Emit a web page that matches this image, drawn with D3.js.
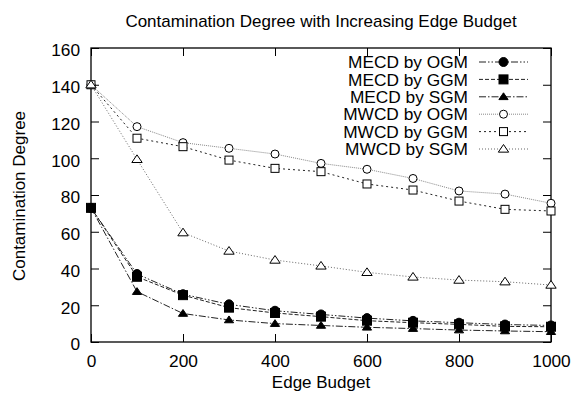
<!DOCTYPE html>
<html><head><meta charset="utf-8">
<script src="https://cdn.jsdelivr.net/npm/d3@7"></script>
<style>
html,body{margin:0;padding:0;background:#fff;}
svg text{font-family:"Liberation Sans",Arial,Helvetica,sans-serif;fill:#000;}
</style></head>
<body><svg id="c" width="573" height="397"></svg>
<script>
const budgets = [0,100,200,300,400,500,600,700,800,900,1000];
const mecdOGM = [73,37,26,20.5,17,15,13,11.5,10.5,9.5,9];
const mecdGGM = [73,35.5,25.5,18.7,15.8,13.8,11.6,10.5,9.6,8.5,8.3];
const mecdSGM = [73,27.4,15.5,12,10,9,8,7.3,6.5,6,5.6];
const mwcdOGM = [140,117.2,108.5,105.4,102.3,97.2,94,89,82.2,80.5,75.5];
const mwcdGGM = [140,110.9,106.3,99,94.5,92.7,86,82.7,76.7,72.2,71.3];
const mwcdSGM = [140,99.4,59.5,49.5,44.6,41.4,37.9,35.4,33.7,32.8,31];
const seriesNames = ["MECD by OGM","MECD by GGM","MECD by SGM","MWCD by OGM","MWCD by GGM","MWCD by SGM"];
const xTicks = [0,200,400,600,800,1000];
const yTicks = [0,20,40,60,80,100,120,140,160];

const series = [
  {name:seriesNames[0], values:mecdOGM, dash:"7,2,1.5,2,1.5,2", color:"#222", width:1, marker:"circle", fill:true},
  {name:seriesNames[1], values:mecdGGM, dash:"4,2", color:"#222", width:1, marker:"square", fill:true},
  {name:seriesNames[2], values:mecdSGM, dash:"7,2,1.5,2", color:"#222", width:1, marker:"triangle", fill:true},
  {name:seriesNames[3], values:mwcdOGM, dash:"1,1", color:"#888", width:1, marker:"circle", fill:false},
  {name:seriesNames[4], values:mwcdGGM, dash:"2,3", color:"#222", width:1, marker:"square", fill:false},
  {name:seriesNames[5], values:mwcdSGM, dash:"1,2", color:"#666", width:1, marker:"triangle", fill:false}
];

const L=91,R=551,T=48,B=342;
const svg=d3.select("#c");
const x=d3.scaleLinear().domain([0,1000]).range([L,R]);
const y=d3.scaleLinear().domain([0,160]).range([B,T]);
const fs=17.3;

// title
svg.append("text").attr("x",321).attr("y",27).attr("text-anchor","middle").attr("font-size",17)
  .text("Contamination Degree with Increasing Edge Budget");

// axes with gnuplot-style inward ticks and mirrors
const gB=svg.append("g").attr("transform",`translate(0,${B})`)
  .call(d3.axisBottom(x).tickValues(xTicks).tickSize(-8).tickPadding(13).tickFormat(d3.format("d")));
const gT=svg.append("g").attr("transform",`translate(0,${T})`)
  .call(d3.axisTop(x).tickValues(xTicks).tickSize(-8).tickFormat(""));
const gL=svg.append("g").attr("transform",`translate(${L},0)`)
  .call(d3.axisLeft(y).tickValues(yTicks).tickSize(-8).tickPadding(11).tickFormat(d3.format("d")));
const gR=svg.append("g").attr("transform",`translate(${R},0)`)
  .call(d3.axisRight(y).tickValues(yTicks).tickSize(-8).tickFormat(""));
[gB,gT,gL,gR].forEach(g=>{
  g.select(".domain").remove();
  g.selectAll(".tick line").attr("stroke","#000");
  g.selectAll("text").attr("font-size",fs).style("font-family",'"Liberation Sans",Arial,sans-serif');
});
gL.selectAll(".tick text").attr("dy","0.45em");
// frame
svg.append("rect").attr("x",L).attr("y",T).attr("width",R-L).attr("height",B-T)
  .attr("fill","none").attr("stroke","#000").attr("stroke-width",1.3);

// axis labels
svg.append("text").attr("x",321).attr("y",388).attr("text-anchor","middle").attr("font-size",17).text("Edge Budget");
svg.append("text").attr("transform","translate(25,196) rotate(-90)").attr("text-anchor","middle").attr("font-size",17).text("Contamination Degree");

function marker(g,type,cx,cy,fill){
  if(type==="circle"){
    g.append("circle").attr("cx",cx).attr("cy",cy).attr("r",fill?4.5:4)
      .attr("fill",fill?"#000":"#fff").attr("stroke","#000").attr("stroke-width",1);
  } else if(type==="square"){
    const s=fill?9:8;
    g.append("rect").attr("x",cx-s/2).attr("y",cy-s/2).attr("width",s).attr("height",s)
      .attr("fill",fill?"#000":"#fff").attr("stroke","#000").attr("stroke-width",1);
  } else {
    const s=fill?4:4.5;
    g.append("path").attr("d",`M${cx},${cy-s}L${cx+s*1.15},${cy+s*0.7}L${cx-s*1.15},${cy+s*0.7}Z`)
      .attr("fill",fill?"#000":"#fff").attr("stroke","#000").attr("stroke-width",1);
  }
}

const line=d3.line().x((d,i)=>x(budgets[i])).y(d=>y(d));
const plot=svg.append("g");
[3,4,5,0,1,2].forEach(k=>{
  const s=series[k];
  plot.append("path").attr("d",line(s.values)).attr("fill","none")
    .attr("stroke",s.color).attr("stroke-width",s.width).attr("stroke-dasharray",s.dash);
});
[3,4,5,0,1,2].forEach(k=>{
  const s=series[k];
  const g=plot.append("g");
  s.values.forEach((v,i)=>marker(g,s.marker,x(budgets[i]),y(v),s.fill));
});

// legend
const lg=svg.append("g");
series.forEach((s,i)=>{
  const yy=62+i*17.4;
  lg.append("text").attr("x",468).attr("y",yy).attr("dy","0.36em").attr("text-anchor","end")
    .attr("font-size",fs).text(s.name);
  lg.append("line").attr("x1",479).attr("x2",528).attr("y1",yy).attr("y2",yy)
    .attr("stroke",s.color).attr("stroke-width",s.width).attr("stroke-dasharray",s.dash);
  marker(lg,s.marker,503.5,yy,s.fill);
});
</script></body></html>
